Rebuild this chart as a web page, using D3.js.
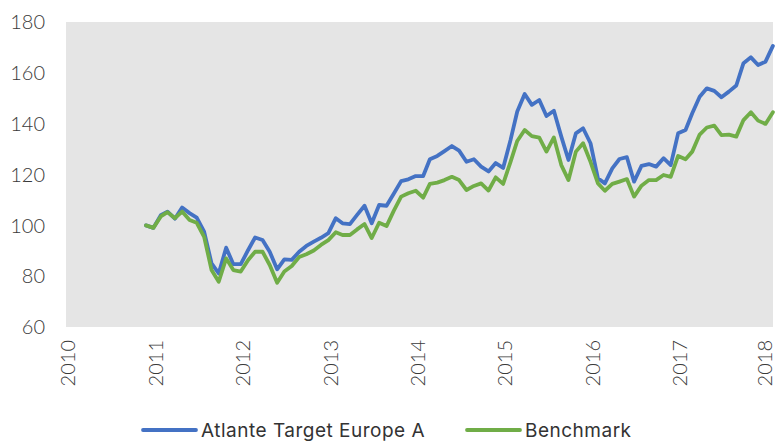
<!DOCTYPE html>
<meta charset="utf-8">
<style>
    body {
        margin: 0;
        background-color: #fff;
    }

    .tick-label {
        font: 300 20px Lato, "Open Sans", sans-serif;
        fill: #3a3a3a;
    }

    .legend-label {
        font: 400 19px Inter, "Noto Sans", sans-serif;
        letter-spacing: 0.5px;
        fill: #333;
    }

    .line {
        fill: none;
        stroke-width: 3.8px;
        stroke-linejoin: round;
        stroke-linecap: round;
    }
</style>

<body>
    <script src="https://d3js.org/d3.v7.min.js"></script>
    <script>

        // monthly index levels, Dec 2010 - Feb 2018
        var startMonth = new Date(2010, 11, 1);

        var fund = [
            100, 99, 104, 105.4, 102.6, 107, 104.8, 103, 97.5, 85,
            81.1, 91.2, 84.7, 84.7, 90.3, 95.2, 94.2, 89.6, 82.7, 86.6,
            86.4, 89.6, 91.9, 93.6, 95.1, 96.9, 102.8, 100.8, 100.5, 104.1,
            107.7, 100.8, 108, 107.7, 112.4, 117.4, 118.1, 119.4, 119.4, 126,
            127.3, 129.2, 131.2, 129.4, 125, 126, 123.1, 121.2, 124.5, 122.6,
            133.6, 144.8, 151.7, 147.4, 149.3, 143, 145.1, 134.9, 125.7, 136.2,
            138.2, 132.3, 118.5, 116.5, 122.4, 126.1, 126.8, 117.2, 123.4, 124.1,
            123.1, 126.4, 123.7, 136.2, 137.5, 144.1, 150.6, 153.9, 152.9, 150.4,
            152.6, 155, 163.8, 166.1, 163.1, 164.4, 170.6
        ];

        var benchmark = [
            100, 99, 103.5, 105.2, 102.8, 105.4, 102.1, 101, 95.5, 82.4,
            77.8, 87, 82.4, 81.8, 86.4, 89.6, 89.6, 84.4, 77.4, 81.8,
            84, 87.5, 88.6, 90.1, 92.3, 94.2, 97.3, 96.2, 96.2, 98.4,
            100.5, 95, 101, 99.7, 105.7, 111.3, 112.6, 113.6, 110.9, 116.3,
            116.8, 117.8, 119.1, 117.8, 113.9, 115.5, 116.5, 113.7, 118.9, 116.3,
            125, 133.2, 137.5, 135.1, 134.5, 129, 134.6, 123.7, 117.8, 129,
            132.3, 125, 116.5, 113.6, 116.3, 117.2, 118.2, 111.3, 115.6, 117.8,
            117.8, 119.8, 119.1, 127.3, 126, 129, 135.7, 138.5, 139.2, 135.5,
            135.7, 134.9, 141.4, 144.5, 141.2, 139.9, 144.5
        ];

        var seriesNames = ["Atlante Target Europe A", "Benchmark"];
        var seriesColors = ["#4472c4", "#70ad47"];

        var years = [2010, 2011, 2012, 2013, 2014, 2015, 2016, 2017, 2018];
        var yTicks = [60, 80, 100, 120, 140, 160, 180];

        var width = 775,
            height = 441;

        var plot = { left: 66, right: 773, top: 22, bottom: 327 };

        var dates = fund.map(function (d, i) { return d3.timeMonth.offset(startMonth, i); });

        var x = d3.scaleTime()
            .domain([new Date(2010, 0, 1), new Date(2018, 0, 1)])
            .range([plot.left, 765.5]);

        var y = d3.scaleLinear()
            .domain([60, 180])
            .range([plot.bottom, plot.top]);

        var svg = d3.select("body").append("svg")
            .attr("width", width)
            .attr("height", height);

        svg.append("rect")
            .attr("x", plot.left)
            .attr("y", plot.top)
            .attr("width", plot.right - plot.left)
            .attr("height", plot.bottom - plot.top)
            .attr("fill", "#e5e5e5");

        // y axis labels
        svg.append("g").selectAll("text")
            .data(yTicks)
            .enter().append("text")
            .attr("class", "tick-label")
            .attr("x", 45)
            .attr("y", function (d) { return y(d); })
            .attr("dy", "0.36em")
            .attr("text-anchor", "end")
            .text(function (d) { return d; });

        // x axis labels, rotated
        svg.append("g").selectAll("text")
            .data(years)
            .enter().append("text")
            .attr("class", "tick-label")
            .attr("transform", function (d) {
                return "translate(" + Math.min(x(new Date(d, 0, 1)) + 2, 765) + ",340)rotate(-90)";
            })
            .attr("dy", "0.36em")
            .attr("text-anchor", "end")
            .text(function (d) { return d; });

        var line = d3.line()
            .x(function (d, i) { return x(dates[i]); })
            .y(function (d) { return y(d); });

        [fund, benchmark].forEach(function (s, k) {
            svg.append("path")
                .datum(s)
                .attr("class", "line")
                .attr("stroke", seriesColors[k])
                .attr("d", line);
        });

        // legend
        var legendX = [143, 467];
        var legend = svg.append("g");
        seriesNames.forEach(function (name, k) {
            legend.append("line")
                .attr("x1", legendX[k]).attr("x2", legendX[k] + 53)
                .attr("y1", 430).attr("y2", 430)
                .attr("stroke", seriesColors[k])
                .attr("stroke-width", 3.8)
                .attr("stroke-linecap", "round");
            legend.append("text")
                .attr("class", "legend-label")
                .attr("x", legendX[k] + 58)
                .attr("y", 430)
                .attr("dy", "0.35em")
                .text(name);
        });

    </script>
</body>
